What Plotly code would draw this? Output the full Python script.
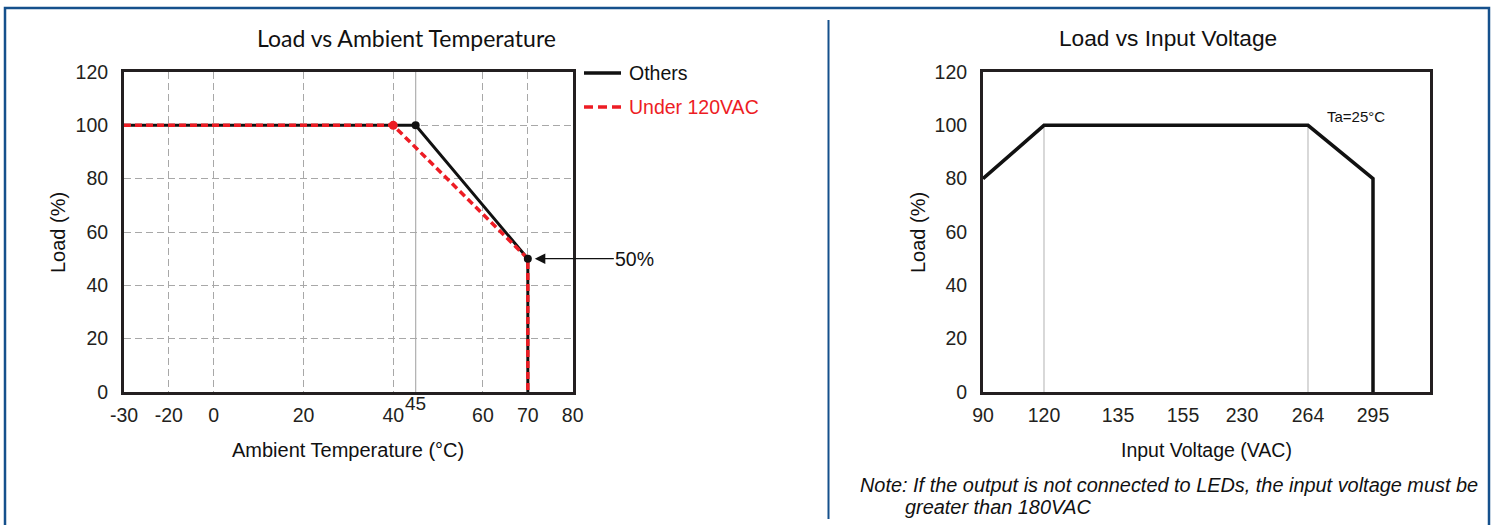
import numpy as np
import plotly.graph_objects as go

# ---------------- data ----------------
temp_ticks = [-30, -20, 0, 20, 40, 60, 70, 80]
temp_tick_labels = ["-30", "-20", "0", "20", "40", "60", "70", "80"]
others_temp = [-30, 45, 70, 70]
others_load = [100, 100, 50, 0]
under_temp = [-30, 40, 70, 70]
under_load = [100, 100, 50, 0]
others_mark_temp = [45, 70]
others_mark_load = [100, 50]
under_mark_temp = [40]
under_mark_load = [100]

volt_ticks = [90, 120, 135, 155, 230, 264, 295]
volt_tick_labels = ["90", "120", "135", "155", "230", "264", "295"]
volt_curve = [90, 120, 264, 295, 295]
volt_load = [80, 100, 100, 80, 0]

load_ticks = [0, 20, 40, 60, 80, 100, 120]

# ---------------- scales (broken / uneven axes as in the original) ----------------
T_BREAK = [-30, -20, 0, 80]
T_DISP = [-20, -10, 0, 80]


def tpos(t):
    return np.interp(t, T_BREAK, T_DISP)


V_DISP = [0, 61, 135, 200, 259, 325, 390]
V_RANGE = [0, 447]


def vpos(v):
    return np.interp(v, volt_ticks, V_DISP)


W, H = 1495, 525


def px(x):
    return x / W


def py(y):
    return 1 - y / H


BLACK = "#111111"
RED = "#ED1C24"
AXC = "#231F20"
GRID = "#A8A8A8"
BLUE = "#15508C"
FONT = "Liberation Sans, Arial, sans-serif"
TITLEFONT = "Lato, Open Sans, sans-serif"

fig = go.Figure()

# ---- left chart ----
fig.add_trace(go.Scatter(x=tpos(others_temp), y=others_load, mode="lines",
                         line=dict(color=BLACK, width=3), xaxis="x", yaxis="y",
                         name="Others", hoverinfo="skip"))
fig.add_trace(go.Scatter(x=tpos(under_temp), y=under_load, mode="lines",
                         line=dict(color=RED, width=3.5, dash="7px,4px"),
                         xaxis="x", yaxis="y", name="Under 120VAC", hoverinfo="skip"))
fig.add_trace(go.Scatter(x=tpos(under_mark_temp), y=under_mark_load, mode="markers",
                         marker=dict(color=RED, size=9), xaxis="x", yaxis="y",
                         showlegend=False, hoverinfo="skip"))
fig.add_trace(go.Scatter(x=tpos(others_mark_temp), y=others_mark_load, mode="markers",
                         marker=dict(color=BLACK, size=8), xaxis="x", yaxis="y",
                         showlegend=False, hoverinfo="skip"))

# ---- right chart ----
fig.add_trace(go.Scatter(x=vpos(volt_curve), y=volt_load, mode="lines",
                         line=dict(color=BLACK, width=3.5), xaxis="x2", yaxis="y2",
                         showlegend=False, hoverinfo="skip"))

ydom = [py(392), py(72)]
axis_common = dict(showline=True, linecolor=AXC, linewidth=3, mirror=True,
                   zeroline=False, ticks="", fixedrange=True, automargin=False)
tickfont = dict(family=FONT, size=19.5, color="#231F20")

fig.update_layout(
    width=W, height=H,
    margin=dict(l=0, r=0, t=0, b=0, pad=0, autoexpand=False),
    paper_bgcolor="white", plot_bgcolor="white",
    showlegend=False,
    xaxis=dict(domain=[px(124), px(572.7)], range=[-20, 80],
               tickmode="array", tickvals=list(tpos(temp_ticks)), ticktext=temp_tick_labels,
               showgrid=True, gridcolor=GRID, gridwidth=1, griddash="7px,4px",
               tickfont=tickfont, ticklabelstandoff=4, anchor="y", **axis_common),
    yaxis=dict(domain=ydom, range=[0, 120], tickmode="array", tickvals=load_ticks,
               showgrid=True, gridcolor=GRID, gridwidth=1, griddash="7px,4px",
               tickfont=tickfont, ticklabelstandoff=9, anchor="x", **axis_common),
    xaxis2=dict(domain=[px(983), px(1430)], range=V_RANGE,
                tickmode="array", tickvals=V_DISP, ticktext=volt_tick_labels,
                showgrid=False, tickfont=tickfont, ticklabelstandoff=4,
                anchor="y2", **axis_common),
    yaxis2=dict(domain=ydom, range=[0, 120], tickmode="array", tickvals=load_ticks,
                showgrid=False, tickfont=tickfont, ticklabelstandoff=9,
                anchor="x2", **axis_common),
)

shapes = [
    # 45 degC solid reference line
    dict(type="line", xref="x", yref="y", x0=tpos(45), x1=tpos(45), y0=0, y1=120,
         line=dict(color="#B4B4B4", width=1.3), layer="below"),
    # voltage reference lines
    dict(type="line", xref="x2", yref="y2", x0=vpos(120), x1=vpos(120), y0=0, y1=100,
         line=dict(color="#C4C4C4", width=1.3), layer="below"),
    dict(type="line", xref="x2", yref="y2", x0=vpos(264), x1=vpos(264), y0=0, y1=100,
         line=dict(color="#C4C4C4", width=1.3), layer="below"),
    # legend samples
    dict(type="line", xref="paper", yref="paper", x0=px(584), x1=px(621), y0=py(73), y1=py(73),
         line=dict(color=BLACK, width=3.5)),
    dict(type="line", xref="paper", yref="paper", x0=px(584), x1=px(621), y0=py(107), y1=py(107),
         line=dict(color=RED, width=3.5, dash="9px,5px")),
    # outer frame and divider
    dict(type="rect", xref="paper", yref="paper", x0=px(5), x1=px(1489), y0=py(560), y1=py(8),
         line=dict(color=BLUE, width=2.5)),
    dict(type="line", xref="paper", yref="paper", x0=px(828.5), x1=px(828.5), y0=py(20), y1=py(519),
         line=dict(color=BLUE, width=2)),
]
fig.update_layout(shapes=shapes)


def label(text, x, y, size, family=FONT, color="#111", xanchor="center", **kw):
    return dict(text=text, xref="paper", yref="paper", x=px(x), y=py(y),
                xanchor=xanchor, yanchor="middle", showarrow=False,
                font=dict(family=family, size=size, color=color), **kw)


ann = [
    label("Load vs Ambient Temperature", 406, 38, 23, family=TITLEFONT),
    label("Load vs Input Voltage", 1168, 38, 22.7),
    label("Ambient Temperature (°C)", 348, 450, 20),
    label("Load (%)", 58, 233, 20, textangle=-90),
    label("Input Voltage (VAC)", 1206, 450, 19.5),
    label("Load (%)", 918, 233, 20, textangle=-90),
    label("Others", 627, 73, 19.5, xanchor="left"),
    label("Under 120VAC", 627, 107, 19.5, color=RED, xanchor="left"),
    label("Ta=25°C", 1356, 116, 15),
    label("<i>Note: If the output is not connected to LEDs, the input voltage must be</i>",
          858, 485, 19.9, xanchor="left"),
    label("<i>greater than 180VAC</i>", 903, 507, 19.9, xanchor="left"),
]
# 45 label under the axis
ann.append(dict(text="45", xref="x", yref="paper", x=tpos(45), y=py(403),
                xanchor="center", yanchor="middle",
                showarrow=False, font=dict(family=FONT, size=19, color="#231F20")))
# 50% arrow
ann.append(dict(text="50%", xref="x", yref="y", x=tpos(70), y=50,
                ax=107, ay=0, axref="pixel", ayref="pixel", showarrow=True,
                arrowhead=2, arrowsize=1.5, arrowwidth=1.4, arrowcolor=BLACK, standoff=7,
                font=dict(family=FONT, size=19.5, color="#111")))
fig.update_layout(annotations=ann)

fig.write_html("out.html",
               config={"displayModeBar": False, "staticPlot": True},
               post_script="document.body.style.margin='0';document.body.style.overflow='hidden';")
